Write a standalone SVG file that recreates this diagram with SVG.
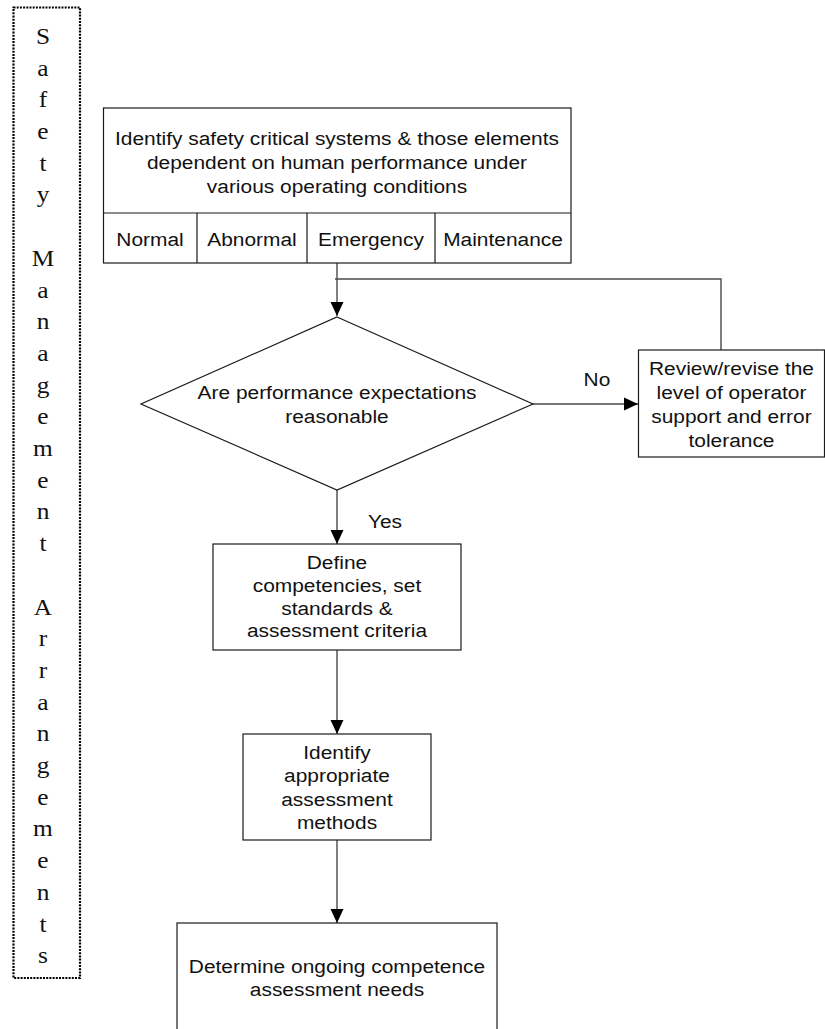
<svg xmlns="http://www.w3.org/2000/svg" width="825" height="1029" viewBox="0 0 825 1029">
<style>
.box{fill:#fff;stroke:#1a1a1a;stroke-width:1.2}
.con{fill:none;stroke:#4a4a4a;stroke-width:1.4}
.t{font-family:"Liberation Sans",Arial,Helvetica,sans-serif;font-size:18.6px;fill:#111;text-anchor:middle}
.v{font-family:"Liberation Serif","Times New Roman",serif;font-size:23.5px;fill:#111;text-anchor:middle}
</style>
<defs>
<marker id="ah" markerUnits="userSpaceOnUse" markerWidth="14" markerHeight="14" refX="14" refY="7" orient="auto">
<path d="M0,0.5 L14,7 L0,13.5 z" fill="#000"/>
</marker>
</defs>
<rect width="825" height="1029" fill="#fff"/>

<g id="sidebar">
<rect x="13.5" y="7.5" width="66.5" height="970.5" fill="none" stroke="#000" stroke-width="2.2" stroke-dasharray="2 1.2"/>
<g class="v" transform="matrix(1.08 0 0 1 -3.44 0)">
<text x="43" y="44">S</text>
<text x="43" y="75.7">a</text>
<text x="43" y="107.4">f</text>
<text x="43" y="139.1">e</text>
<text x="43" y="170.8">t</text>
<text x="43" y="202.5">y</text>
<text x="43" y="265.9">M</text>
<text x="43" y="297.6">a</text>
<text x="43" y="329.3">n</text>
<text x="43" y="361">a</text>
<text x="43" y="392.7">g</text>
<text x="43" y="424.4">e</text>
<text x="43" y="456.1">m</text>
<text x="43" y="487.8">e</text>
<text x="43" y="519.5">n</text>
<text x="43" y="551.2">t</text>
<text x="43" y="614.6">A</text>
<text x="43" y="646.3">r</text>
<text x="43" y="678">r</text>
<text x="43" y="709.7">a</text>
<text x="43" y="741.4">n</text>
<text x="43" y="773.1">g</text>
<text x="43" y="804.8">e</text>
<text x="43" y="836.5">m</text>
<text x="43" y="868.2">e</text>
<text x="43" y="899.9">n</text>
<text x="43" y="931.6">t</text>
<text x="43" y="963.3">s</text>
</g>
</g>

<g id="connectors">
<path class="con" d="M337,263 V316" marker-end="url(#ah)"/>
<path class="con" d="M721,350 V279 H335"/>
<path class="con" d="M533,404 H638" marker-end="url(#ah)"/>
<path class="con" d="M337,490 V544" marker-end="url(#ah)"/>
<path class="con" d="M337,650 V734" marker-end="url(#ah)"/>
<path class="con" d="M337,840 V923" marker-end="url(#ah)"/>
</g>

<g id="identify-systems">
<rect class="box" x="103.5" y="108" width="467.5" height="155"/>
<path d="M103.5,213 H571 M197,213 V263 M307,213 V263 M435,213 V263" stroke="#1a1a1a" stroke-width="1.2" fill="none"/>
<g class="t" transform="matrix(1.125 0 0 1 -42.125 0)">
<text x="337" y="145">Identify safety critical systems &amp; those elements</text>
<text x="337" y="169">dependent on human performance under</text>
<text x="337" y="193">various operating conditions</text>
</g>
<text class="t" x="150" y="246" transform="matrix(1.125 0 0 1 -18.75 0)">Normal</text>
<text class="t" x="252" y="246" transform="matrix(1.125 0 0 1 -31.5 0)">Abnormal</text>
<text class="t" x="371" y="246" transform="matrix(1.125 0 0 1 -46.375 0)">Emergency</text>
<text class="t" x="503" y="246" transform="matrix(1.125 0 0 1 -62.875 0)">Maintenance</text>
</g>

<g id="decision">
<polygon class="box" points="337,317 533,404 337,490 141,404"/>
<g class="t" transform="matrix(1.125 0 0 1 -42.125 0)">
<text x="337" y="399">Are performance expectations</text>
<text x="337" y="423">reasonable</text>
</g>
</g>

<g id="label-no"><text class="t" x="597" y="386" transform="matrix(1.125 0 0 1 -74.625 0)">No</text></g>
<g id="label-yes"><text class="t" x="385" y="528" transform="matrix(1.125 0 0 1 -48.125 0)">Yes</text></g>

<g id="review">
<rect class="box" x="638.5" y="350" width="186" height="107"/>
<g class="t" transform="matrix(1.125 0 0 1 -91.4375 0)">
<text x="731.5" y="375">Review/revise the</text>
<text x="731.5" y="399">level of operator</text>
<text x="731.5" y="423">support and error</text>
<text x="731.5" y="447">tolerance</text>
</g>
</g>

<g id="define">
<rect class="box" x="213" y="544" width="248" height="106"/>
<g class="t" transform="matrix(1.125 0 0 1 -42.125 0)">
<text x="337" y="569">Define</text>
<text x="337" y="592.5">competencies, set</text>
<text x="337" y="615">standards &amp;</text>
<text x="337" y="637.5">assessment criteria</text>
</g>
</g>

<g id="methods">
<rect class="box" x="243" y="734" width="188" height="106"/>
<g class="t" transform="matrix(1.125 0 0 1 -42.125 0)">
<text x="337" y="759">Identify</text>
<text x="337" y="782.5">appropriate</text>
<text x="337" y="806">assessment</text>
<text x="337" y="829.5">methods</text>
</g>
</g>

<g id="ongoing">
<rect class="box" x="177" y="923" width="320" height="130"/>
<g class="t" transform="matrix(1.125 0 0 1 -42.125 0)">
<text x="337" y="973">Determine ongoing competence</text>
<text x="337" y="996">assessment needs</text>
</g>
</g>
</svg>
